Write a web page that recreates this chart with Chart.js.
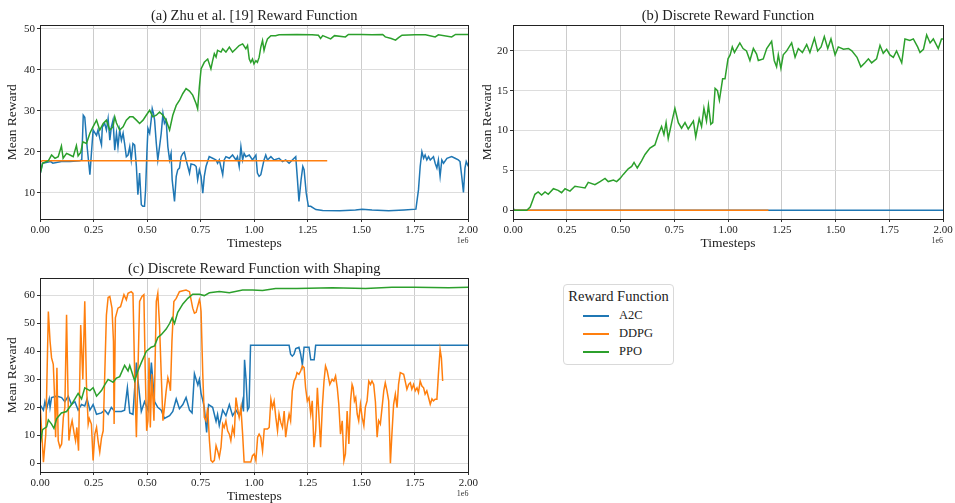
<!DOCTYPE html>
<html>
<head>
<meta charset="utf-8">
<script src="https://cdn.jsdelivr.net/npm/chart.js@4.4.1/dist/chart.umd.min.js"></script>
<style>
    body { margin: 0; background: #fff; width: 955px; height: 503px; position: relative; overflow: hidden; font-family: "Liberation Serif", serif; }
    canvas { position: absolute; }
    #legend { position: absolute; left: 563px; top: 284px; width: 109px; height: 79px; border: 1px solid #d9d9d9; border-radius: 4px; background: #fff; color: #222; }
    #legend .ttl { position: absolute; left: 0; width: 109px; top: 3px; text-align: center; font-size: 14.5px; }
    #legend .ln { position: absolute; left: 19px; width: 26px; height: 1.5px; }
    #legend .lb { position: absolute; left: 55px; font-size: 12.5px; line-height: 14px; }
</style>
</head>
<body>

<canvas id="chartZhu" width="480" height="250" style="left:0;top:0"></canvas>
<canvas id="chartDiscrete" width="480" height="250" style="left:475px;top:0"></canvas>
<canvas id="chartShaping" width="480" height="250" style="left:0;top:253px"></canvas>

<div id="legend">
    <div class="ttl">Reward Function</div>
    <div class="ln" style="top:30px;background:#1f77b4"></div><div class="lb" style="top:23px">A2C</div>
    <div class="ln" style="top:48px;background:#ff7f0e"></div><div class="lb" style="top:41px">DDPG</div>
    <div class="ln" style="top:66px;background:#2ca02c"></div><div class="lb" style="top:59px">PPO</div>
</div>

<script>

// x values are timesteps in units of 1e6

const xTicks = [0, 0.25, 0.5, 0.75, 1, 1.25, 1.5, 1.75, 2];

// (a) Zhu et al. [19] reward function
const zhuA2cT = [0, 0.012, 0.05, 0.06, 0.1, 0.14, 0.185, 0.195, 0.202, 0.209, 0.22, 0.233, 0.24, 0.248, 0.264, 0.271, 0.279, 0.287, 0.291, 0.302, 0.31, 0.318, 0.326, 0.333, 0.341, 0.349, 0.357, 0.364, 0.372, 0.38, 0.388, 0.395, 0.403, 0.411, 0.419, 0.426, 0.434, 0.442, 0.45, 0.457, 0.465, 0.473, 0.48, 0.488, 0.493, 0.499, 0.504, 0.512, 0.519, 0.524, 0.53, 0.535, 0.543, 0.55, 0.558, 0.566, 0.574, 0.581, 0.589, 0.597, 0.605, 0.612, 0.617, 0.628, 0.636, 0.643, 0.651, 0.659, 0.667, 0.674, 0.682, 0.698, 0.705, 0.721, 0.729, 0.736, 0.744, 0.752, 0.76, 0.767, 0.775, 0.79, 0.806, 0.822, 0.829, 0.837, 0.853, 0.86, 0.868, 0.884, 0.899, 0.915, 0.922, 0.93, 0.938, 0.946, 0.953, 0.961, 0.977, 0.992, 1.008, 1.015, 1.023, 1.031, 1.046, 1.054, 1.062, 1.078, 1.093, 1.116, 1.132, 1.147, 1.163, 1.178, 1.194, 1.202, 1.209, 1.219, 1.227, 1.233, 1.243, 1.253, 1.264, 1.288, 1.32, 1.4, 1.473, 1.504, 1.55, 1.628, 1.7, 1.755, 1.767, 1.775, 1.783, 1.791, 1.798, 1.806, 1.814, 1.822, 1.837, 1.845, 1.853, 1.86, 1.868, 1.876, 1.884, 1.9, 1.922, 1.938, 1.953, 1.961, 1.969, 1.977, 1.984, 1.99, 2.0];
const zhuA2cY = [14.4, 17.2, 17.6, 17.2, 17.6, 17.6, 17.8, 18.0, 28.9, 28.4, 21.2, 14.4, 19.6, 25.3, 24.0, 25.3, 23.3, 21.7, 26.0, 26.9, 25.3, 28.1, 22.8, 26.0, 27.7, 20.4, 24.5, 21.2, 25.3, 22.8, 24.5, 22.0, 18.8, 19.2, 21.2, 18.0, 22.0, 21.6, 16.4, 9.5, 14.8, 7.1, 6.7, 6.7, 10.7, 19.6, 25.7, 24.5, 27.7, 30.5, 29.3, 27.7, 22.0, 18.0, 21.2, 24.5, 29.3, 26.9, 27.7, 21.2, 18.0, 19.6, 13.2, 7.9, 14.0, 15.6, 16.0, 18.8, 19.6, 19.9, 18.0, 14.8, 17.0, 16.8, 16.4, 13.2, 15.6, 14.0, 9.9, 14.0, 16.4, 18.8, 18.4, 18.0, 17.2, 18.0, 14.4, 18.0, 18.8, 18.4, 19.2, 18.0, 18.8, 16.4, 21.2, 18.0, 19.6, 18.8, 19.2, 18.0, 19.2, 14.8, 14.0, 14.4, 18.0, 19.2, 18.0, 18.8, 18.0, 18.4, 17.6, 18.0, 17.2, 18.0, 18.8, 13.2, 7.9, 13.2, 16.4, 15.6, 9.9, 6.7, 6.7, 5.9, 5.7, 5.6, 5.8, 6.0, 5.8, 5.6, 5.8, 6.0, 10.7, 16.4, 20.0, 18.4, 19.2, 18.0, 18.8, 18.0, 18.8, 17.2, 16.0, 18.0, 14.0, 18.0, 17.2, 18.4, 18.8, 18.4, 18.0, 17.6, 14.0, 10.1, 16.0, 17.6, 16.4];
const zhuDdpgT = [0, 0.01, 0.5, 1.0, 1.341];
const zhuDdpgY = [17.4, 17.8, 17.8, 17.8, 17.8];
const zhuPpoT = [0, 0.012, 0.039, 0.054, 0.07, 0.085, 0.1, 0.108, 0.124, 0.14, 0.155, 0.17, 0.178, 0.19, 0.2, 0.217, 0.233, 0.248, 0.264, 0.279, 0.295, 0.31, 0.326, 0.341, 0.349, 0.357, 0.372, 0.388, 0.403, 0.419, 0.434, 0.45, 0.465, 0.481, 0.496, 0.512, 0.527, 0.543, 0.558, 0.574, 0.589, 0.605, 0.62, 0.636, 0.651, 0.667, 0.682, 0.698, 0.713, 0.729, 0.736, 0.744, 0.752, 0.767, 0.783, 0.798, 0.806, 0.814, 0.822, 0.829, 0.845, 0.853, 0.868, 0.884, 0.899, 0.915, 0.93, 0.946, 0.961, 0.969, 0.977, 0.984, 0.992, 0.999, 1.008, 1.015, 1.023, 1.031, 1.039, 1.046, 1.054, 1.062, 1.078, 1.1, 1.116, 1.2, 1.27, 1.3, 1.31, 1.32, 1.357, 1.375, 1.426, 1.44, 1.5, 1.55, 1.6, 1.612, 1.64, 1.66, 1.674, 1.69, 1.75, 1.8, 1.845, 1.86, 1.922, 1.94, 2.0];
const zhuPpoY = [14.4, 17.2, 17.8, 19.2, 18.4, 18.8, 21.4, 18.4, 19.6, 19.2, 18.8, 21.5, 19.0, 19.8, 22.4, 22.0, 24.5, 26.1, 27.7, 25.3, 26.9, 27.7, 25.3, 26.1, 28.5, 27.0, 25.3, 26.1, 27.7, 28.5, 28.5, 27.7, 26.9, 27.7, 28.9, 30.1, 28.5, 28.9, 29.7, 28.9, 27.7, 25.3, 28.9, 31.3, 32.5, 34.2, 35.4, 34.8, 33.8, 31.7, 30.5, 35.8, 40.2, 41.8, 42.6, 40.2, 42.2, 43.9, 43.1, 44.7, 44.3, 45.1, 44.3, 45.5, 44.3, 45.1, 45.9, 46.3, 45.1, 45.9, 42.6, 41.8, 42.6, 41.4, 42.2, 41.8, 43.0, 45.5, 47.1, 44.7, 46.3, 47.5, 48.3, 48.3, 48.5, 48.6, 48.5, 48.4, 47.6, 48.3, 47.5, 48.3, 48.0, 48.6, 48.6, 48.5, 48.6, 48.0, 47.6, 47.2, 47.8, 48.4, 48.5, 48.5, 48.0, 48.5, 48.0, 48.6, 48.6];

// (b) discrete reward function
const discreteA2cT = [0, 0.005, 0.01, 2.0];
const discreteA2cY = [0.25, 0.1, 0, 0];
const discreteDdpgT = [0, 1.188];
const discreteDdpgY = [0, 0];
const discretePpoT = [0, 0.064, 0.08, 0.102, 0.117, 0.133, 0.149, 0.164, 0.188, 0.21, 0.226, 0.242, 0.265, 0.288, 0.312, 0.335, 0.35, 0.381, 0.405, 0.428, 0.443, 0.467, 0.482, 0.498, 0.513, 0.536, 0.552, 0.563, 0.578, 0.598, 0.614, 0.637, 0.66, 0.676, 0.691, 0.702, 0.712, 0.722, 0.738, 0.753, 0.769, 0.784, 0.8, 0.815, 0.839, 0.85, 0.866, 0.877, 0.888, 0.9, 0.909, 0.92, 0.929, 0.94, 0.951, 0.96, 0.975, 0.986, 1.0, 1.01, 1.02, 1.03, 1.055, 1.07, 1.086, 1.102, 1.118, 1.133, 1.141, 1.164, 1.18, 1.203, 1.215, 1.226, 1.234, 1.246, 1.257, 1.273, 1.296, 1.312, 1.327, 1.346, 1.366, 1.381, 1.402, 1.417, 1.433, 1.448, 1.464, 1.479, 1.498, 1.513, 1.537, 1.56, 1.576, 1.6, 1.618, 1.637, 1.653, 1.668, 1.691, 1.707, 1.722, 1.738, 1.753, 1.769, 1.784, 1.808, 1.823, 1.846, 1.862, 1.882, 1.893, 1.909, 1.924, 1.94, 1.955, 1.978, 1.993, 2.0];
const discretePpoY = [0, 0, 0.4, 2.0, 2.3, 1.9, 2.3, 2.0, 2.7, 2.5, 2.2, 2.7, 2.4, 3.0, 2.9, 2.8, 3.5, 3.2, 3.6, 4.0, 3.6, 3.8, 3.6, 4.0, 4.5, 5.2, 5.5, 6.0, 5.3, 6.2, 7.0, 7.8, 8.2, 9.5, 10.5, 9.5, 11.0, 9.0, 11.0, 12.8, 11.0, 10.3, 11.0, 10.2, 11.2, 9.2, 11.5, 10.5, 12.8, 11.2, 13.2, 10.8, 11.0, 15.3, 15.0, 13.8, 16.5, 16.5, 19.0, 19.5, 20.5, 19.8, 21.0, 20.3, 20.0, 18.8, 20.3, 19.6, 18.8, 19.0, 20.3, 21.2, 18.8, 18.0, 19.5, 17.8, 19.5, 20.0, 21.0, 19.2, 20.3, 19.8, 20.8, 19.8, 21.6, 20.0, 20.5, 21.8, 20.3, 21.5, 19.5, 20.5, 20.2, 20.3, 20.0, 19.2, 18.0, 18.5, 19.0, 18.5, 19.0, 20.7, 19.7, 20.2, 19.5, 19.2, 20.0, 18.5, 21.5, 21.3, 21.5, 20.5, 19.8, 20.2, 22.0, 21.0, 21.5, 20.3, 21.5, 21.5];

// (c) discrete reward function with shaping
const shapingA2cT = [0, 0.016, 0.023, 0.031, 0.043, 0.047, 0.054, 0.078, 0.101, 0.116, 0.132, 0.147, 0.163, 0.178, 0.194, 0.209, 0.22, 0.233, 0.248, 0.264, 0.287, 0.302, 0.318, 0.333, 0.349, 0.38, 0.395, 0.408, 0.419, 0.434, 0.45, 0.457, 0.473, 0.488, 0.504, 0.52, 0.535, 0.55, 0.566, 0.581, 0.605, 0.62, 0.636, 0.651, 0.667, 0.682, 0.698, 0.71, 0.721, 0.737, 0.744, 0.752, 0.76, 0.767, 0.778, 0.787, 0.806, 0.822, 0.829, 0.837, 0.853, 0.868, 0.884, 0.899, 0.915, 0.93, 0.938, 0.946, 0.95, 0.955, 0.962, 0.969, 0.976, 0.983, 1.1, 1.163, 1.17, 1.178, 1.186, 1.194, 1.209, 1.217, 1.225, 1.233, 1.256, 1.264, 1.28, 1.287, 2.0];
const shapingA2cY = [21, 19, 22, 19.5, 23, 20, 23.5, 24, 23.5, 22, 24, 21, 22, 19, 21, 20.5, 23, 19, 21, 17.5, 18, 19, 17.5, 20, 18.5, 18.5, 19, 27, 18, 17.5, 36, 30, 18.5, 22, 19, 36, 22, 20, 19, 16, 17, 18.5, 23, 19.5, 21, 23.5, 19, 18, 32, 28, 30, 25, 22.5, 20, 11, 21, 20, 15, 17.5, 13.5, 19, 17, 21, 17, 19, 17, 18.5, 22, 18.5, 37, 30, 19, 20, 42.2, 42.2, 42.2, 39, 38.3, 39, 41, 41.5, 39, 35.1, 41.5, 41.5, 37, 37, 42.2, 42.2];
const shapingDdpgT = [0, 0.016, 0.027, 0.039, 0.047, 0.054, 0.062, 0.067, 0.073, 0.079, 0.085, 0.093, 0.101, 0.109, 0.116, 0.124, 0.129, 0.135, 0.143, 0.15, 0.16, 0.166, 0.172, 0.18, 0.19, 0.2, 0.209, 0.217, 0.225, 0.23, 0.24, 0.248, 0.256, 0.264, 0.271, 0.279, 0.287, 0.295, 0.31, 0.318, 0.326, 0.336, 0.343, 0.346, 0.352, 0.364, 0.376, 0.383, 0.392, 0.403, 0.411, 0.426, 0.434, 0.442, 0.45, 0.457, 0.465, 0.476, 0.485, 0.491, 0.498, 0.504, 0.509, 0.515, 0.522, 0.532, 0.543, 0.55, 0.558, 0.566, 0.574, 0.581, 0.589, 0.597, 0.605, 0.609, 0.616, 0.625, 0.636, 0.651, 0.667, 0.682, 0.698, 0.713, 0.721, 0.729, 0.744, 0.748, 0.752, 0.76, 0.767, 0.775, 0.783, 0.791, 0.798, 0.806, 0.814, 0.822, 0.829, 0.837, 0.845, 0.853, 0.86, 0.868, 0.876, 0.884, 0.891, 0.899, 0.907, 0.915, 0.922, 0.93, 0.938, 0.946, 0.953, 0.984, 0.992, 1.0, 1.008, 1.016, 1.023, 1.031, 1.039, 1.047, 1.062, 1.07, 1.078, 1.085, 1.093, 1.101, 1.109, 1.116, 1.124, 1.132, 1.14, 1.147, 1.155, 1.163, 1.17, 1.178, 1.186, 1.194, 1.2, 1.209, 1.217, 1.225, 1.233, 1.24, 1.248, 1.256, 1.264, 1.271, 1.279, 1.287, 1.295, 1.302, 1.31, 1.318, 1.326, 1.333, 1.341, 1.353, 1.364, 1.372, 1.38, 1.388, 1.395, 1.403, 1.411, 1.419, 1.426, 1.434, 1.442, 1.45, 1.457, 1.462, 1.468, 1.474, 1.481, 1.488, 1.496, 1.504, 1.512, 1.519, 1.527, 1.535, 1.543, 1.55, 1.558, 1.566, 1.574, 1.581, 1.589, 1.597, 1.605, 1.612, 1.62, 1.628, 1.636, 1.643, 1.651, 1.659, 1.667, 1.674, 1.682, 1.698, 1.705, 1.713, 1.721, 1.729, 1.736, 1.744, 1.752, 1.76, 1.767, 1.775, 1.783, 1.791, 1.798, 1.806, 1.814, 1.822, 1.83, 1.837, 1.845, 1.853, 1.86, 1.868, 1.874, 1.88];
const shapingDdpgY = [21.7, 0.4, 10.4, 54.3, 43.6, 37.7, 35.4, 25.9, 9.3, 34.2, 8.1, 5.7, 6.9, 16.4, 19.9, 53.1, 31.8, 8.1, 12.8, 15.2, 10.4, 8.1, 12.8, 4.5, 49.5, 30, 58.0, 28.0, 14.0, 16, 14.0, 1.0, 10.4, 12.8, 8.1, 4.0, 9.0, 11.6, 53.0, 59.3, 59.7, 55.5, 43.6, 14.0, 52.0, 55.5, 56.0, 57.9, 60.3, 58.5, 60.8, 61.4, 60.8, 31.8, 9.3, 31.8, 57.9, 59.7, 60.3, 34.2, 11.6, 15.2, 37.7, 12.8, 31.8, 15.2, 57.9, 60.8, 49.6, 31.8, 15.2, 19.9, 25.9, 30.6, 28.2, 25.9, 43.6, 57.9, 59.0, 61.4, 61.7, 62.0, 61.4, 55.5, 53.7, 54.0, 58.5, 57.3, 54.3, 31.8, 16.4, 15.2, 19.9, 8.1, 1.0, 0.4, 1.0, 6.3, 4.5, 2.1, 5.7, 14.0, 12.8, 15.2, 11.6, 10.4, 8.1, 12.8, 10.4, 23.5, 19.9, 16.4, 19.9, 10.4, 0.4, 0.4, 2.7, 3.3, 1.0, 9.3, 10.4, 9.3, 4.5, 12.2, 12.2, 12.8, 22.9, 19.9, 22.3, 16.4, 11.6, 17.6, 14.6, 12.8, 18.7, 9.3, 14.0, 17.6, 15.2, 25.9, 29.4, 30.6, 32.4, 31.8, 33.0, 34.8, 34.2, 27.0, 22.3, 23.5, 17.6, 22.3, 5.7, 11.6, 27.0, 17.6, 5.7, 19.9, 29.4, 34.8, 33.0, 28.2, 30.0, 29.4, 31.2, 27.0, 21.1, 10.4, 15.2, 0.9, 3.3, 18.7, 6.9, 22.3, 28.2, 27.0, 22.3, 23.5, 17.6, 15.2, 21.1, 16.4, 13.4, 20.0, 22.3, 29.4, 28.2, 29.4, 28.2, 22.0, 9.3, 15.2, 14.0, 19.9, 25.9, 28.8, 25.9, 22.3, 0.0, 10.4, 21.1, 24.7, 19.9, 28.2, 32.4, 31.8, 29.4, 26.5, 28.2, 28.8, 26.5, 28.2, 25.9, 27.0, 25.3, 29.4, 27.6, 27.0, 24.7, 25.9, 23.5, 21.1, 23.0, 22.3, 22.9, 22.9, 31.8, 40.7, 37.7, 29.4];
const shapingPpoT = [0, 0.012, 0.031, 0.039, 0.054, 0.065, 0.078, 0.1, 0.124, 0.147, 0.163, 0.178, 0.194, 0.209, 0.233, 0.248, 0.264, 0.287, 0.302, 0.318, 0.341, 0.357, 0.372, 0.395, 0.411, 0.419, 0.442, 0.457, 0.473, 0.496, 0.519, 0.535, 0.55, 0.566, 0.589, 0.605, 0.617, 0.628, 0.643, 0.667, 0.69, 0.713, 0.744, 0.767, 0.791, 0.837, 0.884, 0.946, 0.992, 1.039, 1.1, 1.2, 1.364, 1.52, 1.643, 1.75, 1.907, 2.0];
const shapingPpoY = [6.5, 12.0, 13.0, 15.5, 14.0, 12.5, 16.0, 18.0, 18.5, 21.0, 23.0, 25.0, 23.0, 27.0, 26.0, 27.0, 24.0, 26.0, 28.0, 30.0, 29.0, 30.5, 31.0, 35.0, 33.0, 35.0, 29.5, 33.0, 36.0, 40.0, 41.5, 42.0, 45.0, 46.0, 48.0, 50.0, 52.0, 50.0, 54.0, 57.0, 59.0, 60.5, 60.5, 60.0, 61.0, 61.5, 61.0, 62.0, 62.0, 61.8, 62.5, 62.5, 62.8, 62.5, 63.0, 63.0, 62.8, 63.0];

const colors = { a2c: "#1f77b4", ddpg: "#ff7f0e", ppo: "#2ca02c" };
const serif = "'Liberation Serif', 'Times New Roman', serif";

// draws the top/right spines and the "1e6" offset text
const framePlugin = {
    id: "frame",
    afterDraw(chart) {
        const a = chart.chartArea;
        const ctx = chart.ctx;
        ctx.save();
        ctx.strokeStyle = "#222";
        ctx.lineWidth = 1;
        ctx.strokeRect(Math.round(a.left) + 0.5, Math.round(a.top) + 0.5, Math.round(a.right - a.left), Math.round(a.bottom - a.top));
        ctx.fillStyle = "#333";
        ctx.font = "8px " + serif;
        ctx.textAlign = "right";
        ctx.textBaseline = "middle";
        ctx.fillText("1e6", a.right, a.bottom + 22);
        ctx.restore();
    }
};

function series(label, t, y, color, order) {
    return {
        label: label,
        data: t.map((x, i) => ({ x: x, y: y[i] })),
        borderColor: color,
        borderWidth: 1.5,
        pointRadius: 0,
        tension: 0,
        order: order
    };
}

function makeChart(id, title, datasets, yMin, yMax, yStep, yWidth, padRight) {

    const ctx = document.getElementById(id).getContext("2d");

    return new Chart(ctx, {
        type: "line",
        data: { datasets: datasets },
        plugins: [framePlugin],
        options: {
            responsive: false,
            animation: false,
            devicePixelRatio: 1,
            layout: { padding: { right: padRight, top: 0, left: 0, bottom: 0 } },
            plugins: {
                legend: { display: false },
                tooltip: { enabled: false },
                title: {
                    display: true,
                    fullSize: false,
                    text: title,
                    color: "#222",
                    font: { family: serif, size: 14.5, weight: "normal", lineHeight: 1.2 },
                    padding: { top: 7, bottom: 1 }
                }
            },
            scales: {
                x: {
                    type: "linear",
                    min: 0,
                    max: 2,
                    afterBuildTicks: s => { s.ticks = xTicks.map(v => ({ value: v })); },
                    afterFit: s => { s.height = 31; },
                    ticks: {
                        color: "#222",
                        font: { family: serif, size: 11 },
                        padding: 2,
                        maxRotation: 0,
                        callback: v => Number(v).toFixed(2)
                    },
                    grid: { color: "#cccccc", lineWidth: 1, tickColor: "#333", tickLength: 3 },
                    border: { display: false },
                    title: {
                        display: true,
                        text: "Timesteps",
                        color: "#222",
                        font: { family: serif, size: 13.5, lineHeight: 1 },
                        padding: { top: 0, bottom: 0 }
                    }
                },
                y: {
                    min: yMin,
                    max: yMax,
                    afterFit: s => { s.width = yWidth; },
                    ticks: {
                        stepSize: yStep,
                        includeBounds: false,
                        color: "#222",
                        font: { family: serif, size: 11 },
                        padding: 2
                    },
                    grid: { color: "#dddddd", lineWidth: 1, tickColor: "#333", tickLength: 3 },
                    border: { display: false },
                    title: {
                        display: true,
                        text: "Mean Reward",
                        color: "#222",
                        font: { family: serif, size: 13.5, lineHeight: 1.2 },
                        padding: { top: 4, bottom: 0 }
                    }
                }
            }
        }
    });

}

makeChart("chartZhu", "(a) Zhu et al. [19] Reward Function", [
    series("A2C", zhuA2cT, zhuA2cY, colors.a2c, 3),
    series("DDPG", zhuDdpgT, zhuDdpgY, colors.ddpg, 2),
    series("PPO", zhuPpoT, zhuPpoY, colors.ppo, 1)
], 3.6, 50.8, 10, 40, 10);

makeChart("chartDiscrete", "(b) Discrete Reward Function", [
    series("A2C", discreteA2cT, discreteA2cY, colors.a2c, 3),
    series("DDPG", discreteDdpgT, discreteDdpgY, colors.ddpg, 2),
    series("PPO", discretePpoT, discretePpoY, colors.ppo, 1)
], -1.1, 23.2, 5, 38, 12);

makeChart("chartShaping", "(c) Discrete Reward Function with Shaping", [
    series("A2C", shapingA2cT, shapingA2cY, colors.a2c, 3),
    series("DDPG", shapingDdpgT, shapingDdpgY, colors.ddpg, 2),
    series("PPO", shapingPpoT, shapingPpoY, colors.ppo, 1)
], -3.15, 66.15, 10, 40, 10);

</script>
</body>
</html>
